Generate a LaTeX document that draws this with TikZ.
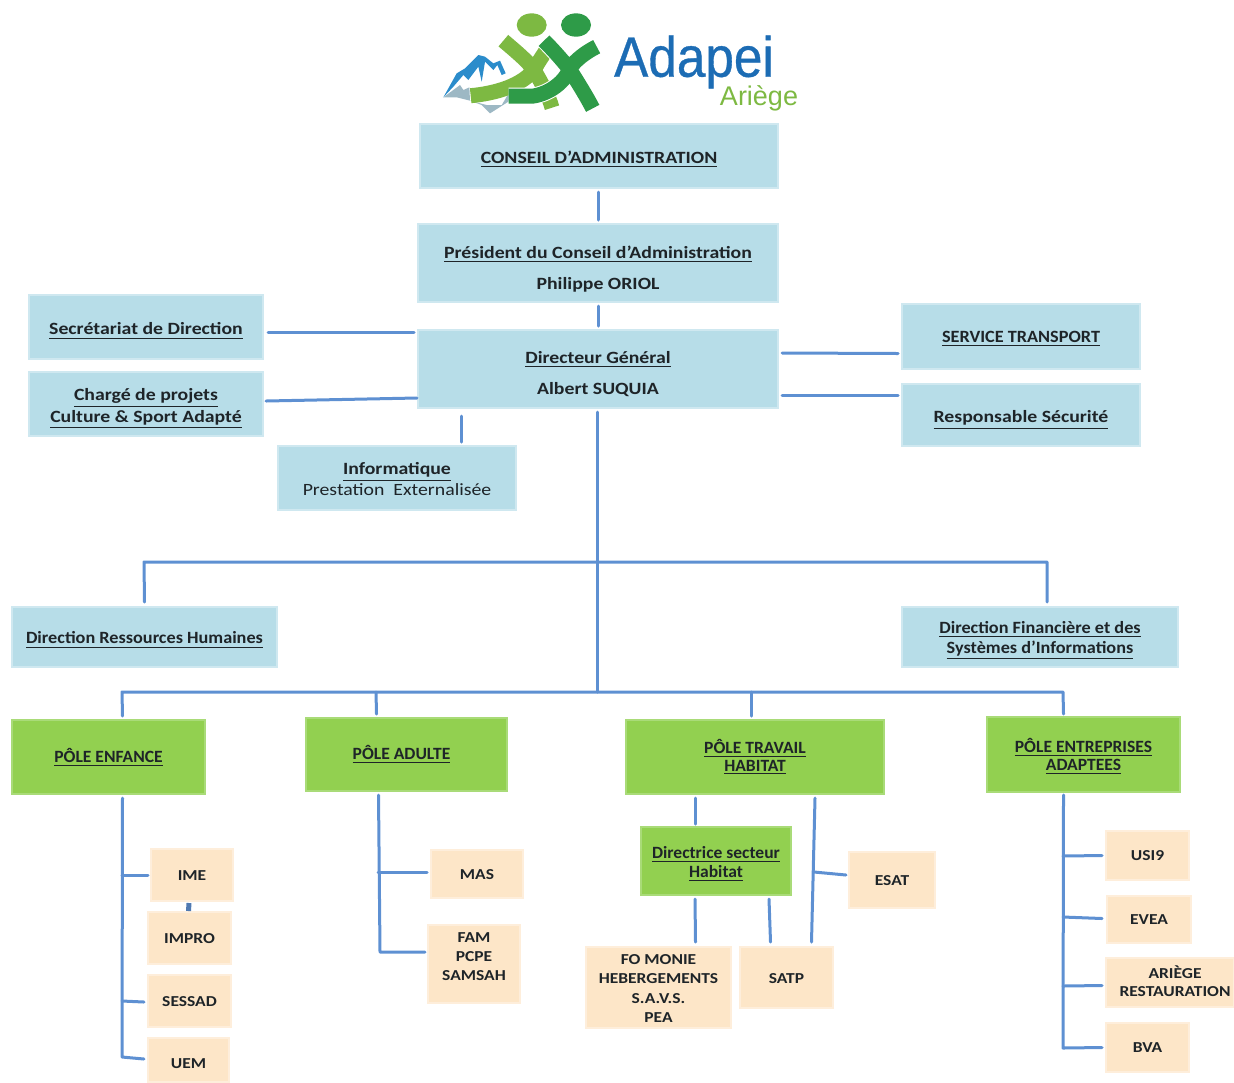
\documentclass[tikz,border=0pt]{standalone}
\usepackage{fontspec}
\usetikzlibrary{calc}
\setmainfont{Carlito}
\newfontfamily\widefont[FakeStretch=1.15]{Carlito}
\newfontfamily\midfont[FakeStretch=1.06]{Carlito}
\newfontfamily\narrowfont[FakeStretch=1.02]{Carlito}
\newfontfamily\logofont[FakeStretch=0.9,FakeBold=0.6]{Liberation Sans}
\newfontfamily\logotwofont{Liberation Sans}
\definecolor{bluebox}{HTML}{B7DDE8}
\definecolor{blueedge}{HTML}{CFE8F0}
\definecolor{greenbox}{HTML}{92D050}
\definecolor{greenedge}{HTML}{A9DB78}
\definecolor{peachbox}{HTML}{FDE6C8}
\definecolor{peachedge}{HTML}{FEEEDB}
\definecolor{linkblue}{HTML}{5E90D2}
\definecolor{inktext}{HTML}{1E2428}
\definecolor{logoblue}{HTML}{1C6CB4}
\definecolor{logolight}{HTML}{7DB942}
\definecolor{logodark}{HTML}{2E9B48}
\definecolor{logogrey}{HTML}{9DB8C4}
\definecolor{logopeak}{HTML}{2B8CCB}
% font of a box: family, then the leading in pt
\newcommand{\fw}[1]{\widefont\fontsize{8.6}{#1}\selectfont\bfseries}
\newcommand{\fm}[1]{\midfont\fontsize{8.6}{#1}\selectfont\bfseries}
\newcommand{\fn}[1]{\narrowfont\fontsize{8.6}{#1}\selectfont\bfseries}
\newcommand{\fp}[1]{\widefont\fontsize{7.6}{#1}\selectfont\bfseries}
% a line of text moved down by #1 pixels of the reference
\newcommand{\dn}[2]{\raisebox{-#1\dimexpr0.5pt\relax}[\height][\depth]{#2}}
\newcommand{\ul}[2]{\dn{#1}{\underline{#2}}}
\tikzset{
  x=0.5pt, y=-0.5pt,
  every node/.style={inner sep=0pt, outer sep=0pt, text=inktext, align=center},
  bluenode/.style={fill=bluebox, draw=blueedge, line width=1pt},
  greennode/.style={fill=greenbox, draw=greenedge, line width=0.6pt},
  peachnode/.style={fill=peachbox, draw=peachedge, line width=1pt},
  link/.style={draw=linkblue, line width=1.5pt, line cap=round, line join=round},
}
\begin{document}
\begin{tikzpicture}
\useasboundingbox (0,0) rectangle (1234,1082);
% logo
\begin{scope}[shift={(440,10)}, x=0.1667pt, y=-0.1667pt]
  \fill[logogrey] (10,262) -- (60,225) -- (70,240) -- (88,232) -- (90,272) -- (140,285) -- (185,285) -- (215,235) -- (205,275) -- (150,310) -- (125,285) -- (90,272) -- (50,262) -- cycle;
  \fill[logopeak] (10,262) -- (50,190) -- (75,175) -- (115,135) -- (135,140) -- (160,160) -- (180,152) -- (197,190) -- (185,195) -- (172,165) -- (160,180) -- (135,155) -- (125,215) -- (115,170) -- (85,210) -- (70,195) -- (40,230) -- cycle;
  \fill[logolight] (275,45) ellipse [x radius=45, y radius=35];
  \fill[logodark] (408,45) ellipse [x radius=45, y radius=35];
  \draw[logolight, line width=7.5pt] (190,92) .. controls (235,130) and (270,160) .. (285,185) .. controls (305,220) and (325,255) .. (336,293)
    (92,257) .. controls (170,250) and (250,225) .. (285,175) .. controls (295,155) and (310,135) .. (320,118);
  \draw[logodark, line width=7.5pt, preaction={draw=white, line width=8.5pt}] (312,92) .. controls (345,125) and (375,160) .. (390,180) .. controls (415,220) and (440,260) .. (458,295)
    (206,258) -- (280,258) .. controls (330,250) and (375,215) .. (390,175) .. controls (405,150) and (440,125) .. (470,110);
\end{scope}
\node[text=logoblue, font=\logofont\fontsize{28.5}{28}\selectfont] (logoname) at (694,62) {Adapei};
\node[text=logolight, font=\logotwofont\fontsize{13.5}{14}\selectfont] (logoregion) at (759,98) {Ariège};
% boxes
\node[bluenode, font=\fw{10.4}, minimum width=179pt, minimum height=32pt] (ca) at (599,156) {\ul{3}{CONSEIL D’ADMINISTRATION}};
\node[bluenode, font=\fw{15.5}, minimum width=180pt, minimum height=39pt] (pres) at (598,263) {\ul{6.5}{Président du Conseil d’Administration}\\\dn{6.5}{Philippe ORIOL}};
\node[bluenode, font=\fw{15.5}, minimum width=180pt, minimum height=39pt] (dg) at (598,369) {\ul{5.5}{Directeur Général}\\\dn{5.5}{Albert SUQUIA}};
\node[bluenode, font=\fw{10.4}, minimum width=117pt, minimum height=32pt] (sec) at (146,327) {\ul{4}{Secrétariat de Direction}};
\node[bluenode, font=\fw{11}, minimum width=117pt, minimum height=32pt] (cha) at (146,404) {\ul{4.5}{Chargé de projets}\\\ul{4.5}{Culture \& Sport Adapté}};
\node[bluenode, font=\fw{10.4}, minimum width=119pt, minimum height=32pt] (inf) at (397,478) {\ul{1}{Informatique}\\\dn{1}{\mdseries Prestation\ \ Externalisée}};
\node[bluenode, font=\fm{10.4}, minimum width=119pt, minimum height=32.5pt] (tra) at (1021,336.5) {\ul{2}{SERVICE TRANSPORT}};
\node[bluenode, font=\fw{10.4}, minimum width=119pt, minimum height=31pt] (secu) at (1021,415) {\ul{5}{Responsable Sécurité}};
\node[bluenode, font=\fm{10.4}, minimum width=132.5pt, minimum height=30pt] (drh) at (144.5,637) {\ul{3}{Direction Ressources Humaines}};
\node[bluenode, font=\fm{10}, minimum width=138pt, minimum height=30pt] (dfi) at (1040,637) {\ul{3.5}{Direction Financière et des}\\\ul{3.5}{Systèmes d’Informations}};
\node[greennode, font=\fn{10.4}, minimum width=96.5pt, minimum height=37pt] (pen) at (108.5,757) {\underline{PÔLE ENFANCE}};
\node[greennode, font=\fn{10.4}, minimum width=100.5pt, minimum height=36.5pt] (pad) at (406.5,754.5) {\underline{PÔLE ADULTE}\hspace*{5pt}};
\node[greennode, font=\fn{9}, minimum width=129pt, minimum height=37pt] (ptr) at (755,757) {\underline{PÔLE TRAVAIL}\\\underline{HABITAT}};
\node[greennode, font=\fn{9}, minimum width=96.5pt, minimum height=37.5pt] (pea) at (1083.5,754.5) {\ul{2}{PÔLE ENTREPRISES}\\\ul{2}{ADAPTEES}};
\node[greennode, font=\fn{9.5}, minimum width=75pt, minimum height=34pt] (dsh) at (716,861) {\ul{3}{Directrice secteur}\\\ul{3}{Habitat}};
\node[peachnode, font=\fp{9.6}, minimum width=41pt, minimum height=26pt] (ime) at (192,875) {\dn{1}{IME}};
\node[peachnode, font=\fp{9.6}, minimum width=41.5pt, minimum height=26pt] (imp) at (189.5,938) {\dn{1}{IMPRO}};
\node[peachnode, font=\fp{9.6}, minimum width=41.5pt, minimum height=26pt] (ses) at (189.5,1001) {\dn{1}{SESSAD}};
\node[peachnode, font=\fp{9.6}, minimum width=40.5pt, minimum height=22pt] (uem) at (188.5,1060) {\dn{4}{UEM}};
\node[peachnode, font=\fp{9.6}, minimum width=46pt, minimum height=24pt] (mas) at (477,874) {\dn{1}{MAS}};
\node[peachnode, font=\fp{9.6}, minimum width=46pt, minimum height=39pt] (fam) at (474,964) {\dn{-7.5}{FAM}\\\dn{-7.5}{PCPE}\\\dn{-7.5}{SAMSAH}};
\node[peachnode, font=\fp{9.6}, minimum width=43pt, minimum height=28pt] (esa) at (892,880) {\dn{1}{ESAT}};
\node[peachnode, font=\fp{9.6}, minimum width=72.5pt, minimum height=40.5pt] (fom) at (658.5,987.5) {\dn{1}{FO MONIE}\\\dn{1}{HEBERGEMENTS}\\\dn{1}{S.A.V.S.}\\\dn{1}{PEA}};
\node[peachnode, font=\fp{9.6}, minimum width=46.5pt, minimum height=30.5pt] (sat) at (786.5,977.5) {\dn{1}{SATP}};
\node[peachnode, font=\fp{9.6}, minimum width=41.5pt, minimum height=24.5pt] (usi) at (1147.5,855.5) {USI9};
\node[peachnode, font=\fp{9.6}, minimum width=42pt, minimum height=23.5pt] (eve) at (1149,919.5) {EVEA};
\node[peachnode, font=\fp{9}, minimum width=64pt, minimum height=24.5pt] (ari) at (1170,982.5) {\hspace*{5pt}\dn{-1.5}{ARIÈGE}\\\hspace*{5pt}\dn{-1.5}{RESTAURATION}};
\node[peachnode, font=\fp{9.6}, minimum width=41.5pt, minimum height=24.5pt] (bva) at (1147.5,1047.5) {BVA};
% free junctions and connector ends
\coordinate (hub2) at (597,692);
\coordinate (dgfoot) at (597,412);
\coordinate (infotop) at (461,416);
\coordinate (rhtop) at (144,562);
\coordinate (dftop) at (1047,562);
\coordinate (entop) at (122,692);
\coordinate (adtop) at (376,692);
\coordinate (trtop) at (751,692);
\coordinate (eatop) at (1063,692);
\coordinate (enbot) at (122,1057);
\coordinate (adbot) at (380,952);
\coordinate (eabot) at (1063,1048);
\coordinate (j1) at (122,875);
\coordinate (j2) at (122,1001);
\coordinate (j3) at (378,872);
\coordinate (j4) at (814,872);
\coordinate (j5) at (1063,856);
\coordinate (j6) at (1063,917);
\coordinate (j7) at (1063,986);
% connectors
\draw[link] ($(ca.south)+(-1,4)$) -- ($(pres.north)+(0,-4)$);
\draw[link] ($(pres.south)+(0,4)$) -- ($(dg.north)+(0,-4)$);
\draw[link] ($(sec.east)+(5,5)$) -- ($(dg.west)+(-4,-37)$);
\draw[link] ($(cha.east)+(3,-3)$) -- ($(dg.west)+(-1,29)$);
\draw[link] ($(dg.east)+(4,-16)$) -- ($(tra.west)+(-4,17)$);
\draw[link] ($(dg.east)+(4,26)$) -- ($(secu.west)+(-4,-20)$);
\draw[link] (infotop) -- ($(inf.north)+(64,-4)$);
\draw[link] (dgfoot) -- (hub2);
\draw[link] ($(drh.north)+(0,-5)$) -- (rhtop) -- (dftop) -- ($(dfi.north)+(7,-5)$);
\draw[link] ($(pen.north)+(14,-4)$) -- (entop) -- (eatop) -- ($(pea.north)+(-20,-3)$);
\draw[link] (adtop) -- ($(pad.north)+(-30,-4)$);
\draw[link] (trtop) -- ($(ptr.north)+(-4,-4)$);
\draw[link] ($(pen.south)+(14,4)$) -- (enbot) -- ($(uem.west)+(-4,-1)$);
\draw[link] (j1) -- ($(ime.west)+(-3,0)$);
\draw[link] (j2) -- ($(ses.west)+(-4,1)$);
\draw[link, line width=2.5pt, line cap=butt, draw=linkblue!85!black] ($(ime.south)+(-3,2)$) -- ($(imp.north)+(-1,-1)$);
\draw[link] ($(pad.south)+(-28,4)$) -- (adbot) -- ($(fam.west)+(-3,-12)$);
\draw[link] (j3) -- ($(mas.west)+(-4,-2)$);
\draw[link] ($(ptr.south)+(-60,4)$) -- ($(dsh.north)+(-21,-3)$);
\draw[link] ($(dsh.south)+(-21,4)$) -- ($(fom.north)+(37,-5)$);
\draw[link] ($(dsh.south)+(53,4)$) -- ($(sat.north)+(-16,-5)$);
\draw[link] ($(ptr.south)+(60,4)$) -- ($(sat.north)+(25,-5)$);
\draw[link] (j4) -- ($(esa.west)+(-3,-5)$);
\draw[link] ($(pea.south)+(-20,3)$) -- (eabot) -- ($(bva.west)+(-4,0)$);
\draw[link] (j5) -- ($(usi.west)+(-4,0)$);
\draw[link] (j6) -- ($(eve.west)+(-5,-1)$);
\draw[link] (j7) -- ($(ari.west)+(-4,3)$);
\end{tikzpicture}
\end{document}
